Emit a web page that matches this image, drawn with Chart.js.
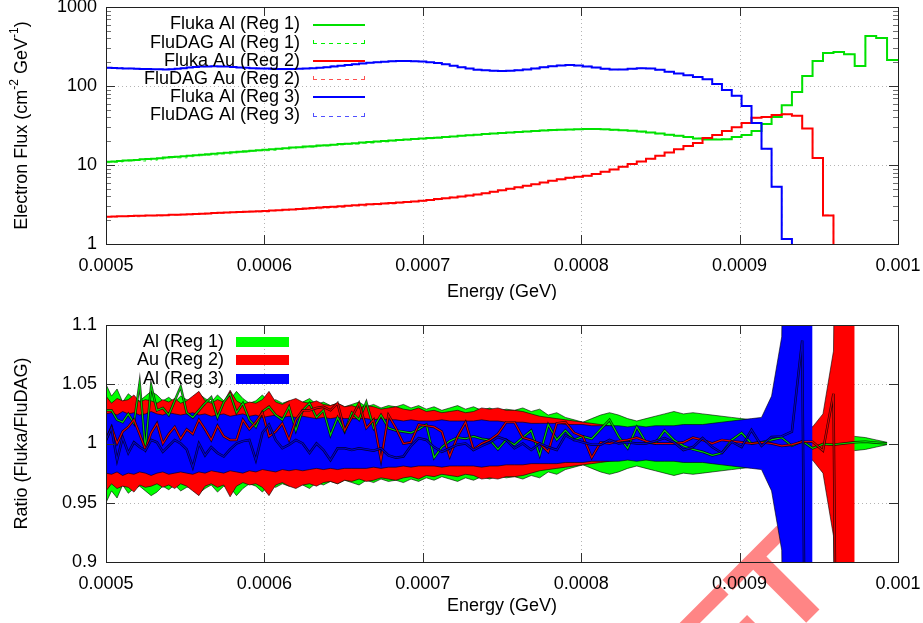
<!DOCTYPE html>
<html>
<head>
<meta charset="utf-8">
<title>Electron flux: Fluka vs FluDAG</title>
<script src="https://cdn.jsdelivr.net/npm/chart.js@4.4.1/dist/chart.umd.min.js"></script>
<style>
  html, body { margin: 0; padding: 0; background: #fff; }
  canvas { display: block; }
</style>
</head>
<body>
<canvas id="flux" width="923" height="300"></canvas>
<canvas id="ratio" width="923" height="323"></canvas>
<script>
// energy binning: 100 logarithmic bins between 0.5 and 1 MeV
const eMin = 0.0005, eMax = 0.001, nBins = 100;
const binEdges = Array.from({ length: nBins + 1 }, (_, k) => eMin * Math.pow(eMax / eMin, k / nBins));

const energyTicks = [0.0005, 0.0006, 0.0007, 0.0008, 0.0009, 0.001];
const energyTickLabels = ['0.0005', '0.0006', '0.0007', '0.0008', '0.0009', '0.001'];
const fluxTicks = [1, 10, 100, 1000];
const fluxTickLabels = ['1', '10', '100', '1000'];
const ratioTicks = [0.9, 0.95, 1, 1.05, 1.1];
const ratioTickLabels = ['0.9', '0.95', '1', '1.05', '1.1'];

// Fluka electron flux per bin (cm^-2 GeV^-1)
const flukaAlReg1 = [
  11.0, 11.1, 11.2, 11.4, 11.5, 11.6, 11.8, 11.9, 12.0, 12.2,
  12.4, 12.6, 12.7, 12.9, 13.1, 13.3, 13.5, 13.7, 13.9, 14.1,
  14.3, 14.5, 14.7, 14.9, 15.2, 15.4, 15.6, 15.8, 16.1, 16.3,
  16.6, 16.8, 17.1, 17.3, 17.6, 17.8, 18.1, 18.4, 18.6, 18.9,
  19.2, 19.5, 19.8, 20.1, 20.4, 20.7, 21.0, 21.3, 21.6, 21.9,
  22.2, 22.6, 23.0, 23.4, 23.8, 24.2, 24.6, 25.0, 25.4, 25.8,
  26.2, 26.6, 27.0, 27.4, 27.7, 28.0, 28.2, 28.4, 28.5, 28.5,
  28.3, 28.0, 27.6, 27.1, 26.5, 25.8, 25.0, 24.2, 23.4, 22.6,
  21.6, 21.1, 21.0, 21.2, 22.6, 24.0, 27.0, 33.0, 40.5, 57.0,
  84, 134, 207, 262, 270, 253, 179, 430, 405, 214
];
const flukaAuReg2 = [
  2.22, 2.23, 2.24, 2.25, 2.26, 2.27, 2.28, 2.29, 2.30, 2.31,
  2.32, 2.34, 2.35, 2.37, 2.38, 2.40, 2.42, 2.44, 2.46, 2.48,
  2.50, 2.52, 2.54, 2.56, 2.58, 2.60, 2.62, 2.65, 2.68, 2.71,
  2.74, 2.77, 2.81, 2.85, 2.89, 2.93, 2.97, 3.01, 3.06, 3.10,
  3.14, 3.18, 3.22, 3.26, 3.30, 3.35, 3.40, 3.46, 3.53, 3.61,
  3.70, 3.79, 3.88, 3.98, 4.10, 4.24, 4.40, 4.58, 4.78, 5.00,
  5.22, 5.46, 5.72, 6.00, 6.30, 6.62, 6.90, 7.10, 7.30, 7.70,
  8.20, 8.80, 9.50, 10.3, 11.1, 12.0, 13.1, 14.4, 15.8, 17.4,
  19.0, 22.0, 24.0, 27.0, 30.0, 34.0, 39.5, 40.5, 43.0, 44.0,
  42.0, 29.0, 12.3, 2.3, 0.3, null, null, null, null, null
];
const flukaAlReg3 = [
  170, 169, 168, 167, 166, 165, 164, 164, 163, 163,
  162, 163, 165, 168, 171, 174, 176, 177, 178, 177,
  176, 174, 172, 170, 168, 167, 166, 165, 164, 164,
  164, 165, 166, 168, 170, 173, 177, 181, 185, 189,
  193, 197, 200, 203, 205, 207, 207, 206, 204, 200,
  195, 188, 180, 173, 166, 161, 158, 156, 155, 156,
  158, 162, 167, 173, 178, 182, 184, 182, 177, 171,
  165, 162, 162, 165, 168, 167, 160, 152, 144, 137,
  130, 122, 106, 89, 75, 56, 34, 16, 5.3, 1.16,
  0.25, 0.04, null, null, null, null, null, null, null, null
];

// Fluka/FluDAG ratio per bin
const ratioAlReg1 = [
  1.028, 1.028, 1.020, 1.018, 1.025, 1.017, 1.051, 0.996, 1.049, 1.028,
  1.030, 1.024, 1.036, 1.048, 1.026, 1.022, 1.028, 1.034, 1.039, 1.022,
  1.035, 1.042, 1.026, 1.034, 1.020, 1.014, 1.027, 1.031, 1.024, 1.020,
  1.031, 1.011, 1.028, 1.034, 1.022, 1.028, 1.007, 1.022, 1.010, 1.026,
  1.020, 1.035, 1.013, 1.024, 1.013, 1.011, 1.010, 1.009, 1.012, 1.016,
  0.988, 0.997, 1.002, 1.005, 1.004, 1.006, 1.004, 1.003, 0.995, 1.003,
  0.999, 1.005, 1.011, 0.990, 1.016, 1.003, 1.011, 1.003, 1.006, 1.004,
  1.012, 1.020, 1.006, 0.996, 1.014, 1.001, 1.000, 1.011, 1.003, 0.998,
  0.995, 0.993, 0.990, 0.992, 1.003, 1.009, 1.000, 1.001, 1.003, 1.005,
  0.998, 1.002, 0.996, 0.9995, 0.999, 1.000, 1.001, 1.0015, 1.0007, 1.000
];
const ratioAuReg2 = [
  1.003, 1.014, 1.000, 1.010, 1.014, 1.020, 1.008, 0.995, 1.009, 1.017,
  1.000, 1.008, 1.014, 1.004, 1.012, 1.008, 1.020, 1.012, 1.003, 1.015,
  1.006, 1.003, 1.003, 1.020, 1.012, 1.018, 1.026, 1.006, 1.010, 1.017,
  1.003, 1.020, 1.028, 1.028, 1.030, 1.031, 1.028, 1.034, 1.011, 1.022,
  1.034, 1.013, 1.020, 0.986, 1.024, 1.013, 1.000, 1.001, 1.016, 1.015,
  1.014, 1.010, 0.989, 1.006, 1.018, 0.995, 1.000, 1.003, 1.008, 1.018,
  1.018, 1.005, 1.003, 1.000, 0.993, 1.017, 1.018, 1.009, 1.006, 0.988,
  1.001, 1.000, 1.002, 1.003, 1.005, 1.002, 1.000, 1.000, 1.000, 1.001,
  1.005, 1.003, 1.000, 1.003, 1.002, 1.001, 1.000, 1.001, 1.000, 0.998,
  0.999, 1.0015, 1.0015, 0.994, 1.042, 0, 0, null, null, null
];
const ratioAlReg3 = [
  1.003, 1.013, 0.986, 1.005, 0.992, 1.001, 0.997, 0.994, 1.003, 1.001,
  0.993, 0.998, 1.003, 1.000, 0.995, 0.980, 1.000, 0.990, 0.997, 0.992,
  0.989, 0.995, 1.000, 1.002, 1.003, 0.986, 1.009, 1.016, 1.003, 0.996,
  0.999, 1.003, 1.000, 0.992, 1.000, 0.9945, 0.986, 0.996, 0.996, 0.9945,
  0.996, 0.995, 0.994, 0.996, 0.990, 0.988, 0.989, 0.998, 1.0046, 1.003,
  0.997, 0.993, 0.996, 0.999, 1.000, 0.9945, 0.998, 1.001, 1.0055, 1.003,
  0.996, 1.000, 0.9945, 1.000, 0.997, 0.9945, 1.007, 1.003, 1.001, 0.999,
  0.999, 1.003, 1.000, 1.001, 1.000, 1.000, 1.002, 1.0046, 1.001, 0.9945,
  0.997, 1.0046, 0.997, 0.992, 1.0015, 0.997, 1.0114, 0.998, 1.0055, 1.006,
  1.010, 1.087, 0, null, null, null, null, null, null, null
];

// relative statistical error of the ratio per bin
const errAlReg1 = [
  0.050, 0.040, 0.046, 0.035, 0.042, 0.038, 0.036, 0.040, 0.044, 0.041,
  0.036, 0.039, 0.035, 0.040, 0.037, 0.036, 0.042, 0.038, 0.035, 0.041,
  0.036, 0.037, 0.044, 0.038, 0.034, 0.036, 0.041, 0.035, 0.037, 0.034,
  0.036, 0.033, 0.035, 0.038, 0.033, 0.035, 0.032, 0.034, 0.031, 0.033,
  0.035, 0.031, 0.033, 0.030, 0.032, 0.031, 0.033, 0.030, 0.032, 0.029,
  0.031, 0.028, 0.030, 0.032, 0.029, 0.031, 0.028, 0.030, 0.027, 0.029,
  0.028, 0.030, 0.027, 0.029, 0.024, 0.026, 0.022, 0.020, 0.018, 0.021,
  0.024, 0.026, 0.024, 0.021, 0.019, 0.021, 0.023, 0.025, 0.027, 0.025,
  0.026, 0.025, 0.024, 0.023, 0.022, 0.021, 0.020, 0.020, 0.019, 0.018,
  0.017, 0.016, 0.014, 0.012, 0.010, 0.008, 0.006, 0.005, 0.003, 0.001
];
const errAuReg2 = [
  0.040, 0.034, 0.038, 0.036, 0.037, 0.041, 0.035, 0.037, 0.036, 0.034,
  0.037, 0.035, 0.038, 0.034, 0.036, 0.040, 0.044, 0.036, 0.034, 0.037,
  0.035, 0.045, 0.036, 0.033, 0.035, 0.034, 0.037, 0.044, 0.035, 0.033,
  0.036, 0.038, 0.035, 0.034, 0.036, 0.033, 0.032, 0.034, 0.031, 0.032,
  0.030, 0.032, 0.031, 0.029, 0.030, 0.031, 0.029, 0.028, 0.030, 0.027,
  0.028, 0.026, 0.027, 0.028, 0.026, 0.027, 0.030, 0.029, 0.030, 0.028,
  0.028, 0.027, 0.025, 0.023, 0.022, 0.021, 0.020, 0.019, 0.018, 0.017,
  0.016, 0.015, 0.014, 0.013, 0.013, 0.012, 0.012, 0.011, 0.011, 0.011,
  0.010, 0.010, 0.010, 0.010, 0.010, 0.010, 0.010, 0.011, 0.011, 0.012,
  0.012, 0.013, 0.014, 0.025, 0.078, 0.9, 0.9, null, null, null
];
const errAlReg3 = [
  0.025, 0.026, 0.024, 0.027, 0.025, 0.026, 0.024, 0.025, 0.027, 0.025,
  0.024, 0.026, 0.025, 0.024, 0.025, 0.026, 0.024, 0.025, 0.023, 0.024,
  0.025, 0.023, 0.024, 0.025, 0.023, 0.024, 0.022, 0.023, 0.024, 0.022,
  0.023, 0.022, 0.023, 0.022, 0.021, 0.022, 0.021, 0.022, 0.021, 0.021,
  0.021, 0.021, 0.020, 0.021, 0.020, 0.020, 0.019, 0.020, 0.019, 0.019,
  0.019, 0.020, 0.019, 0.019, 0.019, 0.019, 0.020, 0.019, 0.019, 0.018,
  0.018, 0.018, 0.017, 0.017, 0.017, 0.017, 0.016, 0.016, 0.016, 0.015,
  0.015, 0.015, 0.015, 0.014, 0.015, 0.014, 0.015, 0.015, 0.015, 0.016,
  0.016, 0.016, 0.017, 0.018, 0.019, 0.020, 0.021, 0.022, 0.040, 0.090,
  0.8, 0.9, 0.9, null, null, null, null, null, null, null
];

const FONT = '"Liberation Sans", Arial, Helvetica, sans-serif';
Chart.defaults.font.family = FONT;
Chart.defaults.font.size = 18;
Chart.defaults.color = '#000';

const GREEN = '#00e000', RED = '#ff0000', BLUE = '#0000ff';

// FluDAG values follow from Fluka / ratio
function fluDag(fluka, ratio) {
  return fluka.map((v, k) => (v === null || !ratio[k]) ? null : v / ratio[k]);
}

// histogram outline: one point per lower bin edge, closing point on the last upper edge
function histogramPoints(values) {
  const pts = [];
  values.forEach((v, k) => {
    if (v === null) { pts.push({ x: binEdges[k], y: null }); return; }
    pts.push({ x: binEdges[k], y: v });
    const next = values[k + 1];
    if (next === undefined || next === null) pts.push({ x: binEdges[k + 1], y: v });
  });
  return pts;
}

function ratioPoints(values) {
  return values.map((v, k) => ({ x: binEdges[k], y: v }));
}

function bandPoints(err, sign) {
  return err.map((e, k) => ({ x: binEdges[k], y: e === null ? null : 1 + sign * e }));
}

// dotted grid, inward tick marks on all four sides, and the frame
function framePlugin(yMinor) {
  return {
    id: 'frame',
    beforeDatasetsDraw(chart) {
      const { ctx, chartArea: a, scales: { x, y } } = chart;
      ctx.save();
      ctx.strokeStyle = '#b4b4b4';
      ctx.lineWidth = 1;
      ctx.setLineDash([1, 3]);
      ctx.beginPath();
      x.ticks.forEach(t => {
        const px = Math.round(x.getPixelForValue(t.value)) + 0.5;
        if (px > a.left + 2 && px < a.right - 2) { ctx.moveTo(px, a.top); ctx.lineTo(px, a.bottom); }
      });
      y.ticks.forEach(t => {
        const py = Math.round(y.getPixelForValue(t.value)) + 0.5;
        if (py > a.top + 2 && py < a.bottom - 2) { ctx.moveTo(a.left, py); ctx.lineTo(a.right, py); }
      });
      ctx.stroke();
      ctx.restore();
    },
    afterDatasetsDraw(chart) {
      const { ctx, chartArea: a, scales: { x, y } } = chart;
      ctx.save();
      ctx.lineWidth = 1;
      ctx.strokeStyle = '#303030';
      ctx.beginPath();
      x.ticks.forEach(t => {
        const px = Math.round(x.getPixelForValue(t.value)) + 0.5;
        ctx.moveTo(px, a.bottom); ctx.lineTo(px, a.bottom - 9);
        ctx.moveTo(px, a.top); ctx.lineTo(px, a.top + 9);
      });
      y.ticks.forEach(t => {
        const py = Math.round(y.getPixelForValue(t.value)) + 0.5;
        ctx.moveTo(a.left, py); ctx.lineTo(a.left + 9, py);
        ctx.moveTo(a.right, py); ctx.lineTo(a.right - 9, py);
      });
      ctx.stroke();
      if (yMinor) {
        ctx.strokeStyle = '#707070';
        ctx.beginPath();
        yMinor.forEach(v => {
          const py = Math.round(y.getPixelForValue(v)) + 0.5;
          ctx.moveTo(a.left, py); ctx.lineTo(a.left + 5, py);
          ctx.moveTo(a.right, py); ctx.lineTo(a.right - 5, py);
        });
        ctx.stroke();
      }
      ctx.strokeStyle = '#202020';
      ctx.strokeRect(Math.round(a.left) + 0.5, Math.round(a.top) + 0.5,
        Math.round(a.right - a.left), Math.round(a.bottom - a.top));
      ctx.restore();
    }
  };
}

// axis titles; parts = [text, size, raise]
function titlePlugin(yParts, xTitleY) {
  return {
    id: 'titles',
    afterDraw(chart) {
      const { ctx, chartArea: a } = chart;
      ctx.save();
      ctx.fillStyle = '#000';
      ctx.textBaseline = 'middle';
      ctx.textAlign = 'center';
      ctx.font = '18px ' + FONT;
      ctx.fillText('Energy (GeV)', (a.left + a.right) / 2, xTitleY);
      ctx.translate(22, (a.top + a.bottom) / 2);
      ctx.rotate(-Math.PI / 2);
      ctx.textAlign = 'left';
      let total = 0;
      yParts.forEach(p => { ctx.font = p[1] + 'px ' + FONT; total += ctx.measureText(p[0]).width; });
      let cx = -total / 2;
      yParts.forEach(p => {
        ctx.font = p[1] + 'px ' + FONT;
        ctx.fillText(p[0], cx, -p[2]);
        cx += ctx.measureText(p[0]).width;
      });
      ctx.restore();
    }
  };
}

const fluxLegendItems = [
  { label: 'Fluka Al (Reg 1)', color: GREEN, dashed: false },
  { label: 'FluDAG Al (Reg 1)', color: '#00f000', dashed: true },
  { label: 'Fluka Au (Reg 2)', color: RED, dashed: false },
  { label: 'FluDAG Au (Reg 2)', color: '#ff5050', dashed: true },
  { label: 'Fluka Al (Reg 3)', color: BLUE, dashed: false },
  { label: 'FluDAG Al (Reg 3)', color: '#5050ff', dashed: true }
];

const fluxLegend = {
  id: 'fluxLegend',
  afterDatasetsDraw(chart) {
    const ctx = chart.ctx;
    ctx.save();
    ctx.font = '18px ' + FONT;
    ctx.textAlign = 'right';
    ctx.textBaseline = 'middle';
    fluxLegendItems.forEach((it, i) => {
      const yy = 24.5 + i * 18.2;
      ctx.fillStyle = '#000';
      ctx.fillText(it.label, 300, yy);
      ctx.strokeStyle = it.color;
      ctx.beginPath();
      if (it.dashed) {
        ctx.lineWidth = 1;
        ctx.setLineDash([4, 4]);
        ctx.moveTo(313, Math.round(yy) + 0.5); ctx.lineTo(365, Math.round(yy) + 0.5);
        ctx.stroke();
        ctx.setLineDash([]);
        ctx.beginPath();
        ctx.moveTo(313.5, Math.round(yy) + 0.5); ctx.lineTo(313.5, Math.round(yy) - 3);
        ctx.moveTo(364.5, Math.round(yy) + 0.5); ctx.lineTo(364.5, Math.round(yy) - 3);
        ctx.stroke();
      } else {
        ctx.lineWidth = 2;
        ctx.moveTo(313, Math.round(yy)); ctx.lineTo(365, Math.round(yy));
        ctx.stroke();
      }
    });
    ctx.restore();
  }
};

const ratioLegendItems = [
  { label: 'Al (Reg 1)', color: '#00ff00' },
  { label: 'Au (Reg 2)', color: '#ff0000' },
  { label: 'Al (Reg 3)', color: '#0000ff' }
];

const ratioLegend = {
  id: 'ratioLegend',
  afterDatasetsDraw(chart) {
    const ctx = chart.ctx;
    ctx.save();
    ctx.font = '18px ' + FONT;
    ctx.textAlign = 'right';
    ctx.textBaseline = 'middle';
    ratioLegendItems.forEach((it, i) => {
      const yy = 42 + i * 18.3;
      ctx.fillStyle = it.color;
      ctx.fillRect(236, Math.round(yy - 5), 53, 10);
      ctx.fillStyle = '#000';
      ctx.fillText(it.label, 224, yy);
    });
    ctx.restore();
  }
};

// red stamp behind the ratio panel
const stamp = {
  id: 'stamp',
  beforeDraw(chart) {
    const ctx = chart.ctx;
    ctx.save();
    ctx.translate(841, 288);
    ctx.rotate(-Math.PI / 4);
    ctx.font = 'bold 130px ' + FONT;
    ctx.textAlign = 'right';
    ctx.textBaseline = 'alphabetic';
    ctx.fillStyle = 'rgba(255, 0, 0, 0.48)';
    ctx.fillText('DRAFT', 0, 0);
    ctx.restore();
  }
};

function energyAxis(height) {
  return {
    type: 'linear',
    min: eMin,
    max: eMax,
    afterBuildTicks: s => { s.ticks = energyTicks.map(v => ({ value: v })); },
    afterFit: s => { s.height = height; s.paddingLeft = 0; s.paddingRight = 0; },
    ticks: {
      autoSkip: false, maxRotation: 0, padding: 11,
      callback: v => energyTickLabels[energyTicks.indexOf(v)]
    },
    grid: { display: false, drawTicks: false },
    border: { display: false }
  };
}

const common = {
  responsive: false,
  animation: false,
  events: [],
  devicePixelRatio: 1,
  plugins: { legend: { display: false }, tooltip: { enabled: false } },
  elements: { point: { radius: 0 }, line: { tension: 0 } }
};

// decade subdivisions for the log axis tick marks
const fluxMinor = [];
[1, 10, 100].forEach(d => { for (let m = 2; m <= 9; m++) fluxMinor.push(d * m); });

function stepLine(values, color, width, dash, order) {
  return {
    data: histogramPoints(values),
    borderColor: color,
    borderWidth: width,
    borderDash: dash,
    stepped: true,
    fill: false,
    spanGaps: false,
    order
  };
}

new Chart(document.getElementById('flux'), {
  type: 'line',
  data: {
    datasets: [
      stepLine(flukaAlReg1, GREEN, 2, [], 6),
      stepLine(fluDag(flukaAlReg1, ratioAlReg1), 'rgba(0,230,0,0.55)', 1.2, [4, 4], 5),
      stepLine(flukaAuReg2, RED, 2, [], 4),
      stepLine(fluDag(flukaAuReg2, ratioAuReg2), 'rgba(255,0,0,0.5)', 1.2, [4, 4], 3),
      stepLine(flukaAlReg3, BLUE, 2, [], 2),
      stepLine(fluDag(flukaAlReg3, ratioAlReg3), 'rgba(0,0,255,0.5)', 1.2, [4, 4], 1)
    ]
  },
  options: {
    ...common,
    layout: { padding: { top: 7, right: 25, left: 0, bottom: 0 } },
    scales: {
      x: energyAxis(56),
      y: {
        type: 'logarithmic',
        min: 1,
        max: 1000,
        afterBuildTicks: s => { s.ticks = fluxTicks.map(v => ({ value: v })); },
        afterFit: s => { s.width = 106; s.paddingTop = 0; s.paddingBottom = 0; },
        ticks: { padding: 9, callback: v => fluxTickLabels[fluxTicks.indexOf(v)] },
        grid: { display: false, drawTicks: false },
        border: { display: false }
      }
    }
  },
  plugins: [framePlugin(fluxMinor), fluxLegend,
    titlePlugin([['Electron Flux (cm', 18, 0], ['-2', 12, 7], [' GeV', 18, 0], ['-1', 12, 7], [')', 18, 0]], 292)]
});

function band(err, color, order) {
  return [
    { data: bandPoints(err, 1), borderColor: '#000', borderWidth: 0.6, fill: false, order },
    { data: bandPoints(err, -1), borderColor: '#000', borderWidth: 0.6, backgroundColor: color, fill: '-1', order }
  ];
}

function ratioLine(values, color, order) {
  return [
    { data: ratioPoints(values), borderColor: color, borderWidth: 1.2, fill: false, order },
    { data: ratioPoints(values), borderColor: 'rgba(0,0,0,0.8)', borderWidth: 2.5, fill: false, order: order + 0.5 }
  ];
}

new Chart(document.getElementById('ratio'), {
  type: 'line',
  data: {
    datasets: [
      ...band(errAlReg1, '#00ff00', 30),
      ...band(errAuReg2, '#ff0000', 20),
      ...band(errAlReg3, '#0000ff', 10),
      ...ratioLine(ratioAlReg1, '#00d000', 5),
      ...ratioLine(ratioAuReg2, '#e00000', 3),
      ...ratioLine(ratioAlReg3, '#0000d0', 1)
    ]
  },
  options: {
    ...common,
    layout: { padding: { top: 25, right: 25, left: 0, bottom: 0 } },
    scales: {
      x: energyAxis(61),
      y: {
        type: 'linear',
        min: 0.9,
        max: 1.1,
        afterBuildTicks: s => { s.ticks = ratioTicks.map(v => ({ value: v })); },
        afterFit: s => { s.width = 106; s.paddingTop = 0; s.paddingBottom = 0; },
        ticks: { padding: 9, callback: v => ratioTickLabels[ratioTicks.indexOf(v)] },
        grid: { display: false, drawTicks: false },
        border: { display: false }
      }
    }
  },
  plugins: [stamp, framePlugin(null), ratioLegend,
    titlePlugin([['Ratio (Fluka/FluDAG)', 18, 0]], 306)]
});
</script>
</body>
</html>
